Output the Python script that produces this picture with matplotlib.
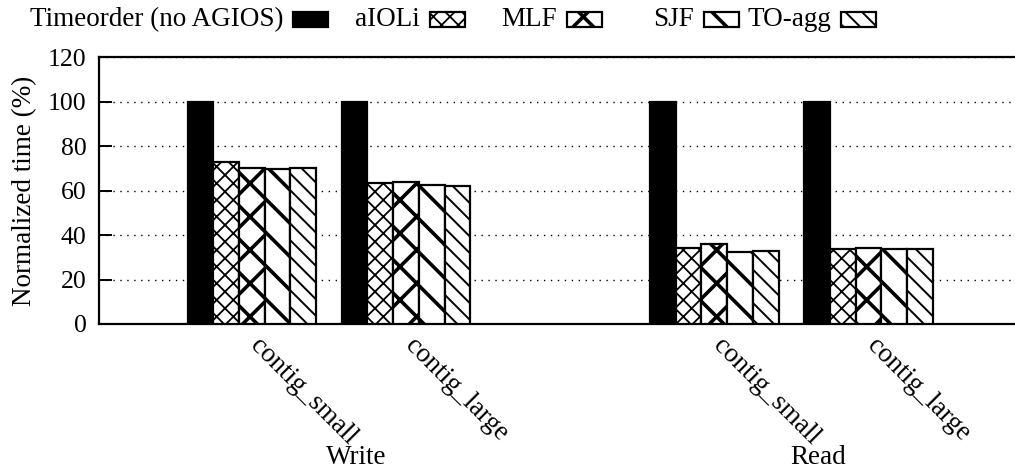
import numpy as np
import matplotlib
matplotlib.use('Agg')
import matplotlib.pyplot as plt
from matplotlib.patches import Rectangle
from matplotlib.transforms import blended_transform_factory

plt.rcParams['font.family'] = ['Liberation Serif', 'DejaVu Serif']

# data
categories = ['contig_small', 'contig_large', 'contig_small', 'contig_large']
operations = ['Write', 'Read']
series = ['Timeorder (no AGIOS)', 'aIOLi', 'MLF', 'SJF', 'TO-agg']
timeorder = [100, 100, 100, 100]
aioli = [73.0, 63.6, 34.3, 33.6]
mlf = [70.0, 64.0, 36.0, 34.3]
sjf = [69.7, 62.4, 32.3, 33.7]
toagg = [70.2, 62.1, 33.0, 33.6]
values = [timeorder, aioli, mlf, sjf, toagg]

# styles
faces = ['black', 'white', 'white', 'white', 'white']
hatches = [None, 'xx', 'x', '\\', '\\\\']
hatch_lw = [1.0, 1.3, 2.6, 2.6, 1.4]
fs = 19.5

# group start positions (one empty slot between Write and Read)
starts = np.array([0, 6, 18, 24])

fig = plt.figure(figsize=(10.15, 4.71), dpi=100)
ax = fig.add_axes([99 / 1015, 147 / 471, 1 - 99 / 1015 + 0.01, 0.5664])

for i, vals in enumerate(values):
    plt.rcParams['hatch.linewidth'] = hatch_lw[i]
    bars = ax.bar(starts + i + 0.5, vals, width=1.0, color=faces[i],
                  edgecolor='black', linewidth=1.6, hatch=hatches[i], zorder=3)
    for b in bars:
        if hasattr(b, 'set_hatch_linewidth'):
            b.set_hatch_linewidth(hatch_lw[i])

ax.set_xlim(-3.45, 32.6)
ax.set_ylim(0, 120)
ax.set_yticks(np.arange(0, 121, 20))
ax.yaxis.grid(True, color='black', linestyle=(0, (1, 4)), linewidth=1.0, zorder=0)
ax.tick_params(axis='y', direction='in', length=9, width=1.4, labelsize=18.5, pad=9)
ax.tick_params(axis='x', length=0, labelsize=fs, pad=7)
for s in ['left', 'top', 'bottom']:
    ax.spines[s].set_linewidth(1.6)
ax.spines['right'].set_visible(False)

ax.set_xticks(starts + 2.25)
ax.set_xticklabels(categories, rotation=-45, ha='left', va='top')
ax.set_ylabel('Normalized time (%)', fontsize=fs, labelpad=8)

# operation labels under each pair of groups
trans = blended_transform_factory(ax.transData, fig.transFigure)
for k, op in enumerate(operations):
    xc = (starts[2 * k] + starts[2 * k + 1] + 5) / 2 + 1.05
    ax.text(xc, 14 / 471, op, transform=trans, ha='center', va='center', fontsize=fs)

# legend in gnuplot style: right-justified text, sample box after it
for i, name in enumerate(series):
    x0 = (293 + 137 * i) / 1015
    plt.rcParams['hatch.linewidth'] = hatch_lw[i]
    r = Rectangle((x0, (471 - 27) / 471), 35 / 1015, 15 / 471, transform=fig.transFigure,
                  facecolor=faces[i], edgecolor='black', linewidth=1.6, hatch=hatches[i])
    if hasattr(r, 'set_hatch_linewidth'):
        r.set_hatch_linewidth(hatch_lw[i])
    fig.patches.append(r)
    fig.text(x0 - 10 / 1015, (471 - 20) / 471, name, ha='right', va='center', fontsize=fs)

fig.savefig('out.png', dpi=100)
